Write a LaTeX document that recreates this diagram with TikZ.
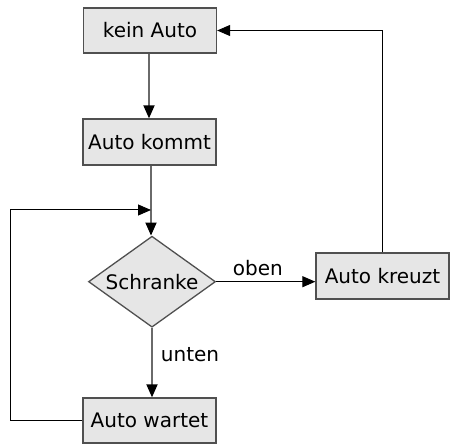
\documentclass[tikz,border=0pt]{standalone}
\usepackage{fontspec}
\setmainfont{DejaVu Sans}
\usetikzlibrary{shapes.geometric,arrows.meta}
\definecolor{boxfill}{HTML}{E6E6E6}
\definecolor{boxline}{HTML}{505050}
\definecolor{vline}{HTML}{6A6A6A}
\begin{document}
\begin{tikzpicture}[x=1pt,y=-1pt,
  font=\fontsize{20}{24}\selectfont,
  stepbox/.style={draw=boxline,fill=boxfill,line width=1.3pt,inner sep=0pt,
    minimum width=133pt,minimum height=45pt},
  decision/.style={draw=boxline,fill=boxfill,line width=1.3pt,shape=diamond,
    aspect=1.3956,inner sep=0pt,minimum width=127pt,minimum height=91pt},
  grayarrow/.style={draw=vline,line width=1.8pt,-{Triangle[length=13pt,width=11pt,color=black]}},
  blackarrow/.style={draw=black,line width=1pt,-{Triangle[length=13pt,width=11pt]}},
  lbl/.style={inner sep=0pt}]
\useasboundingbox (0,0) rectangle (450,446);
\node[stepbox] (kein) at (150,30.5) {kein Auto};
\node[stepbox,minimum height=46pt] (kommt) at (149.5,142) {Auto kommt};
\node[decision] (schranke) at (152,281.7) {Schranke};
\node[stepbox,minimum height=46pt] (kreuzt) at (382.5,276) {Auto kreuzt};
\node[stepbox] (wartet) at (149.5,420.5) {Auto wartet};
\coordinate (merge) at (151,210);
\coordinate (leftx) at (10,210);
\coordinate (col1) at (149,0);
% connectors
\draw[grayarrow] (kein.south -| col1) -- (kommt.north -| col1);
\draw[grayarrow] (kommt.south -| merge) -- (schranke.north -| merge);
\draw[grayarrow] (schranke.south) -- (wartet.north -| schranke.south);
\draw[blackarrow] (schranke.east) -- (kreuzt.west |- schranke.east)
  node[lbl,pos=0.42,above=5pt] {oben};
\draw[blackarrow] (kreuzt.north) |- (kein.east);
\draw[blackarrow] (wartet.west) -| (leftx) -- (merge);
\node[lbl] (unten) at (190,355) {unten};
\end{tikzpicture}
\end{document}
